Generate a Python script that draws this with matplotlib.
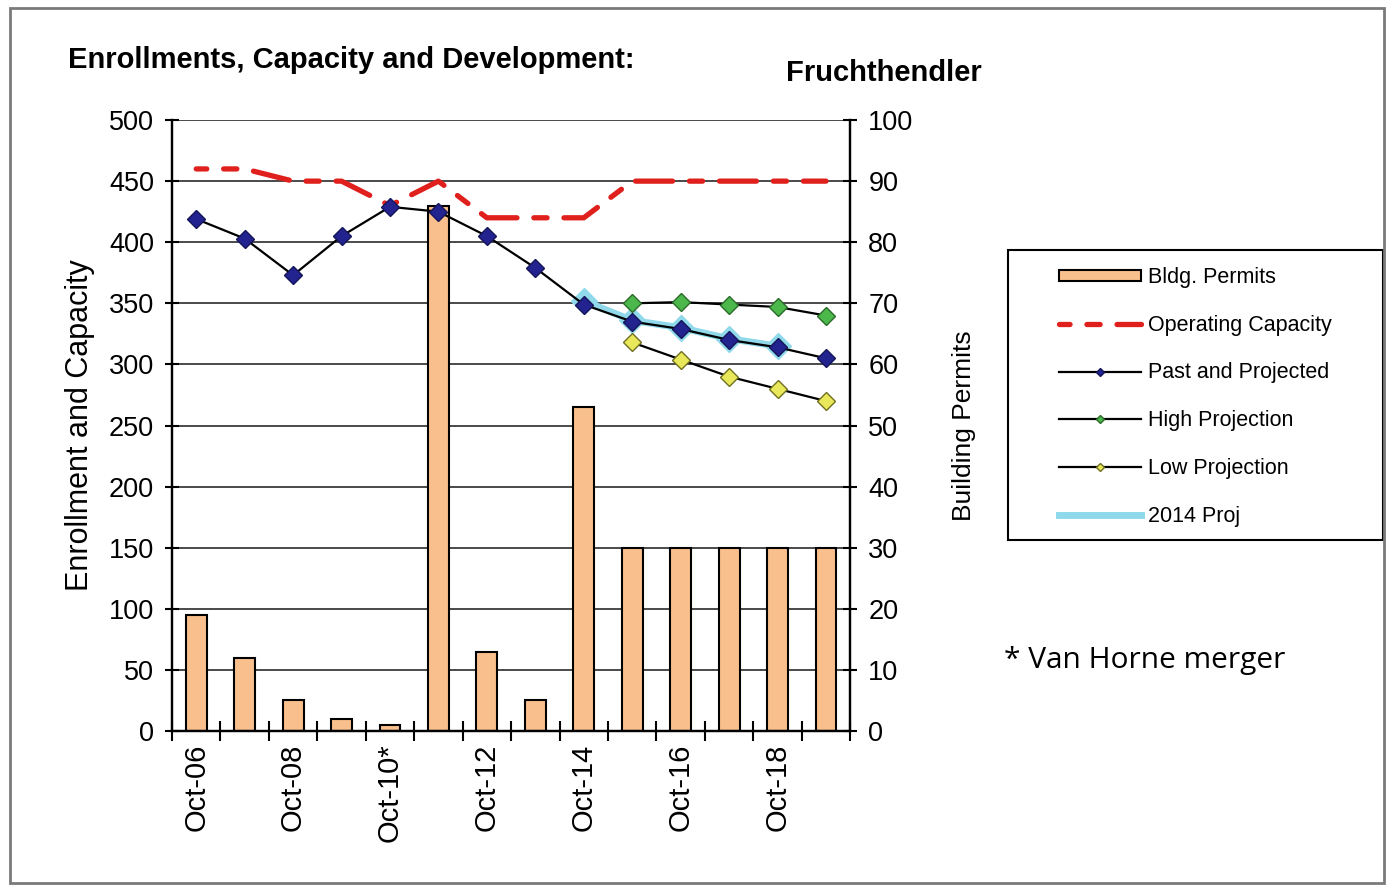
import matplotlib
matplotlib.use("Agg")
import matplotlib.pyplot as plt
from matplotlib.patches import Rectangle
import numpy as np

plt.rcParams['font.family'] = ['Liberation Sans', 'DejaVu Sans']

# school years, Oct-06 .. Oct-19
anos = ["Oct-06", "Oct-07", "Oct-08", "Oct-09", "Oct-10*", "Oct-11", "Oct-12",
        "Oct-13", "Oct-14", "Oct-15", "Oct-16", "Oct-17", "Oct-18", "Oct-19"]
rotulos = ["Oct-06", "Oct-08", "Oct-10*", "Oct-12", "Oct-14", "Oct-16", "Oct-18"]

permits = [19, 12, 5, 2, 1, 86, 13, 5, 53, 30, 30, 30, 30, 30]
capacidade = [460, 460, 450, 450, 430, 450, 420, 420, 420, 450, 450, 450, 450, 450]
matricula = [419, 403, 373, 405, 429, 425, 405, 379, 349, 335, 329, 320, 314, 305]
alta = [350, 351, 349, 347, 340]          # Oct-15 .. Oct-19
baixa = [318, 304, 290, 280, 270]         # Oct-15 .. Oct-19
proj2014 = [352, 336, 330, 321, 315]      # Oct-14 .. Oct-18

x = np.arange(len(anos))

fig = plt.figure(figsize=(13.87, 8.86), dpi=100)
fig.patch.set_facecolor("white")
ax = fig.add_axes([0.124, 0.175, 0.489, 0.6895])
ax2 = ax.twinx()

# bars and grid on the right axis, lines on the left axis drawn above
ax2.bar(x, permits, width=0.43, color="#f9c08e", edgecolor="black", linewidth=1.5, zorder=2,
        label="Bldg. Permits")
ax2.set_ylim(0, 100)
ax2.set_yticks(np.arange(0, 101, 10))
ax2.grid(axis="y", color="#4a4a4a", linewidth=1.4, zorder=0)
ax2.set_axisbelow(True)

ax.set_zorder(ax2.get_zorder() + 1)
ax.patch.set_visible(False)

cap, = ax.plot(x, capacidade, color="#e0201c", linewidth=3.8, solid_capstyle="round",
               dash_capstyle="round", linestyle=(5, (7, 3.2, 2.5, 3.2)),
               label="Operating Capacity")

xp = x[8:13]
ax.plot(xp, proj2014, color="#8fd9ea", linewidth=5, zorder=2, label="2014 Proj")
ax.plot(xp, proj2014, linestyle="none", marker="D", markersize=13, color="#8fd9ea", zorder=2)

l1, = ax.plot(x, matricula, color="black", linewidth=1.6, marker="D", markersize=9,
              markerfacecolor="#23238f", markeredgecolor="#15155a", zorder=3,
              label="Past and Projected")
l2, = ax.plot(x[9:], alta, color="black", linewidth=1.6, marker="D", markersize=9,
              markerfacecolor="#4cb84c", markeredgecolor="#2a6a2a", zorder=3,
              label="High Projection")
l3, = ax.plot(x[9:], baixa, color="black", linewidth=1.6, marker="D", markersize=9,
              markerfacecolor="#e8e85a", markeredgecolor="#707020", zorder=3,
              label="Low Projection")

ax.set_xlim(-0.5, 13.5)
ax.set_ylim(0, 500)
ax.set_yticks(np.arange(0, 501, 50))
ax.set_xticks(x[::2])
ax.set_xticklabels(rotulos, rotation=90)
ax.set_xticks(np.arange(-0.5, 14, 1), minor=True)
ax.tick_params(axis="x", which="major", length=0, pad=9, labelsize=21)
ax.tick_params(axis="x", which="minor", length=14, width=1.5, direction="inout")
ax.tick_params(axis="y", length=10, width=1.5, direction="inout", labelsize=19.5, pad=8)
ax2.tick_params(axis="y", length=10, width=1.5, direction="inout", labelsize=19.5, pad=8)

for a in (ax, ax2):
    a.spines["top"].set_visible(False)
    for s in ("left", "right", "bottom"):
        a.spines[s].set_linewidth(1.6)

ax.set_ylabel("Enrollment and Capacity", fontsize=22, labelpad=10)
ax2.set_ylabel("Building Permits", fontsize=19, labelpad=28)

fig.text(0.049, 0.932, "Enrollments, Capacity and Development:", fontsize=21,
         fontweight="bold", va="center")
fig.text(0.567, 0.918, "Fruchthendler", fontsize=21, fontweight="bold", va="center")
fig.text(0.724, 0.255, "* Van Horne merger", fontsize=21.5, family="Open Sans", va="center")

# legend with its own frame
fig.patches.append(Rectangle((0.727, 0.39), 0.27, 0.328, transform=fig.transFigure,
                             facecolor="white", edgecolor="black", linewidth=1.5))
barra = ax2.patches[0]
leg = fig.legend([barra, cap, l1, l2, l3, ax.lines[1]],
                 ["Bldg. Permits", "Operating Capacity", "Past and Projected",
                  "High Projection", "Low Projection", "2014 Proj"],
                 loc="upper left", bbox_to_anchor=(0.751, 0.718), frameon=False,
                 fontsize=15.5, handlelength=3.8, handleheight=0.45, handletextpad=0.35,
                 labelspacing=1.24, markerscale=0.45, borderpad=0.3)

# outer frame around the whole image
fig.patches.append(Rectangle((0.007, 0.003), 0.991, 0.988, transform=fig.transFigure,
                             fill=False, edgecolor="#7a7a7a", linewidth=2))

fig.savefig("out.png", dpi=100)
